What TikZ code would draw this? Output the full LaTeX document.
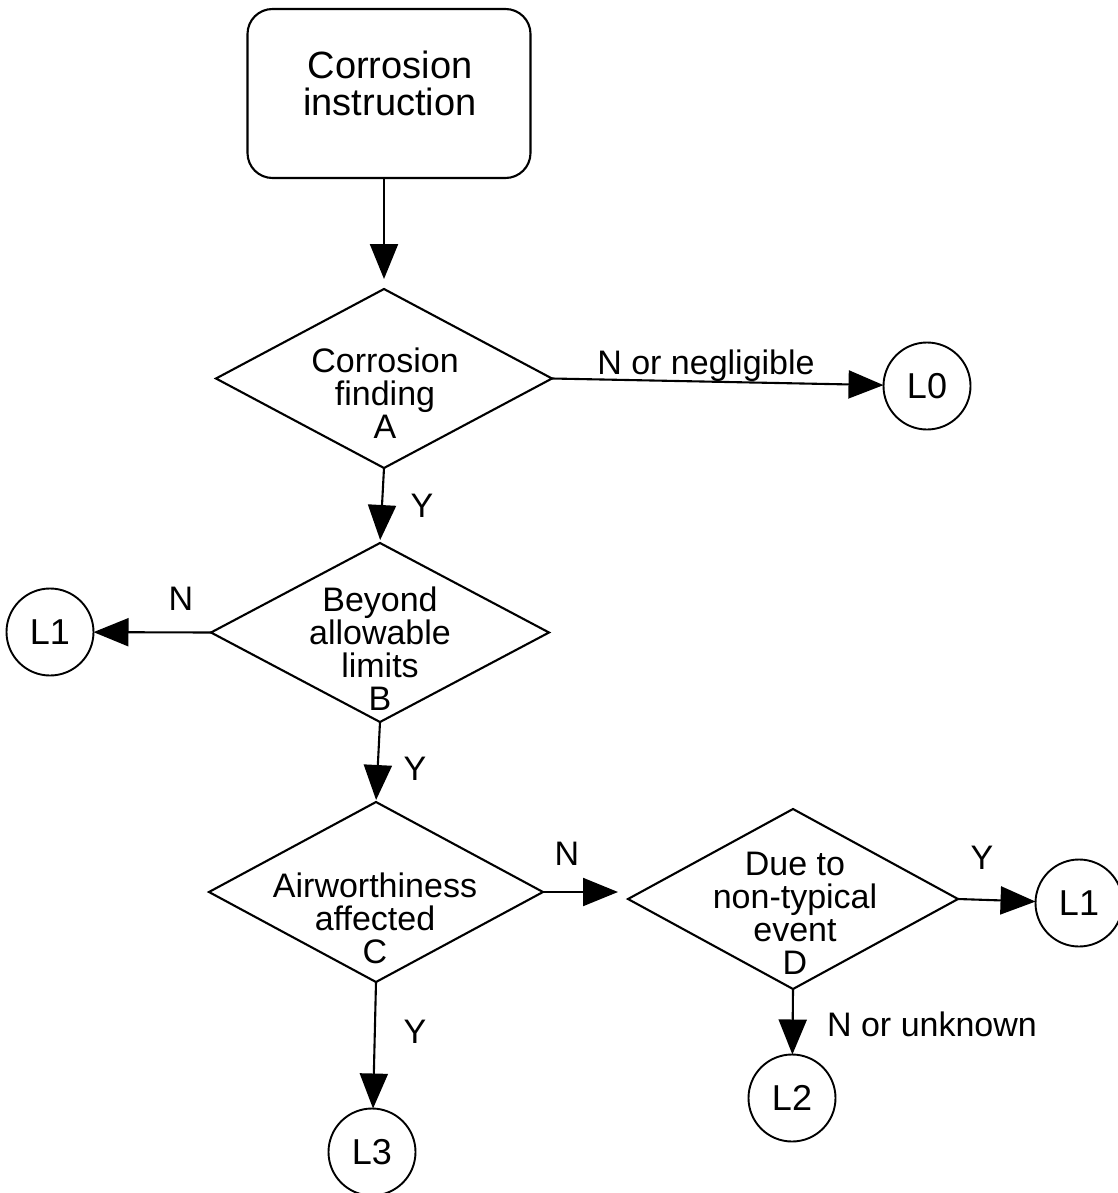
\documentclass[tikz,border=0pt]{standalone}
\usepackage{fontspec}
\setmainfont{Liberation Sans}
\usetikzlibrary{shapes.geometric,arrows.meta}
\begin{document}
\begin{tikzpicture}[x=1pt,y=-1pt,
  dia/.style={draw,diamond,line width=2.1pt,inner sep=0pt,outer sep=0pt},
  term/.style={draw,circle,line width=1.9pt,minimum size=87pt,inner sep=0pt,outer sep=0pt,font=\fontsize{36}{36}\selectfont},
  txt/.style={align=center,inner sep=0pt,font=\fontsize{34}{33}\selectfont},
  lbl/.style={anchor=base,inner sep=0pt,font=\fontsize{34}{34}\selectfont},
  arr/.style={line width=2.1pt,-{Triangle[length=35pt,width=28pt]}},
  startbox/.style={draw,rounded corners=25pt,line width=2.1pt,minimum width=283pt,minimum height=169pt,inner sep=0pt,outer sep=0pt}]
\useasboundingbox (0,0) rectangle (1117,1193);

% start box
\node[startbox] (start) at (389,93.5) {};
\node[txt,font=\fontsize{38}{37}\selectfont] (starttext) at (390,83.5) {Corrosion\\instruction};

% diamonds
\node[dia,minimum width=336pt,minimum height=179pt] (A) at (384,378.5) {};
\node[txt] (Atext) at (385,393) {Corrosion\\finding\\A};
\node[dia,minimum width=338pt,minimum height=179pt] (B) at (380,632.5) {};
\node[txt] (Btext) at (380,649) {Beyond\\allowable\\limits\\B};
\node[dia,minimum width=334pt,minimum height=180pt] (C) at (376,892) {};
\node[txt] (Ctext) at (375,918) {Airworthiness\\affected\\C};
\node[dia,minimum width=330pt,minimum height=180pt] (D) at (793,899) {};
\node[txt] (Dtext) at (795,913) {Due to\\non-typical\\event\\D};

% terminals
\node[term] (L0) at (927,386) {L0};
\node[term] (L1a) at (50,632) {L1};
\node[term] (L1b) at (1079,903) {L1};
\node[term] (L2) at (792,1098) {L2};
\node[term] (L3) at (372,1152) {L3};

% connectors
\draw[arr,shorten >=10pt] (A.north |- start.south) -- (A.north);
\draw[arr] (A.east) -- (L0);
\draw[arr,shorten >=3pt] (A.south) -- (B.north);
\draw[arr] (B.west) -- (L1a);
\draw[arr,shorten >=2pt] (B.south) -- (C.north);
\draw[arr,shorten >=10pt] (C.east) -- (C.east -| D.west);
\draw[arr] (C.south) -- (L3);
\draw[arr] (D.east) -- (L1b);
\draw[arr] (D.south) -- (L2);

% labels
\node[lbl] (lA) at (706,374) {N or negligible};
\node[lbl] (lAy) at (422,517) {Y};
\node[lbl] (lB) at (181,610) {N};
\node[lbl] (lBy) at (415,780) {Y};
\node[lbl] (lC) at (567,865) {N};
\node[lbl] (lCy) at (415,1043) {Y};
\node[lbl] (lD) at (982,869) {Y};
\node[lbl] (lDn) at (932,1036) {N or unknown};
\end{tikzpicture}
\end{document}
